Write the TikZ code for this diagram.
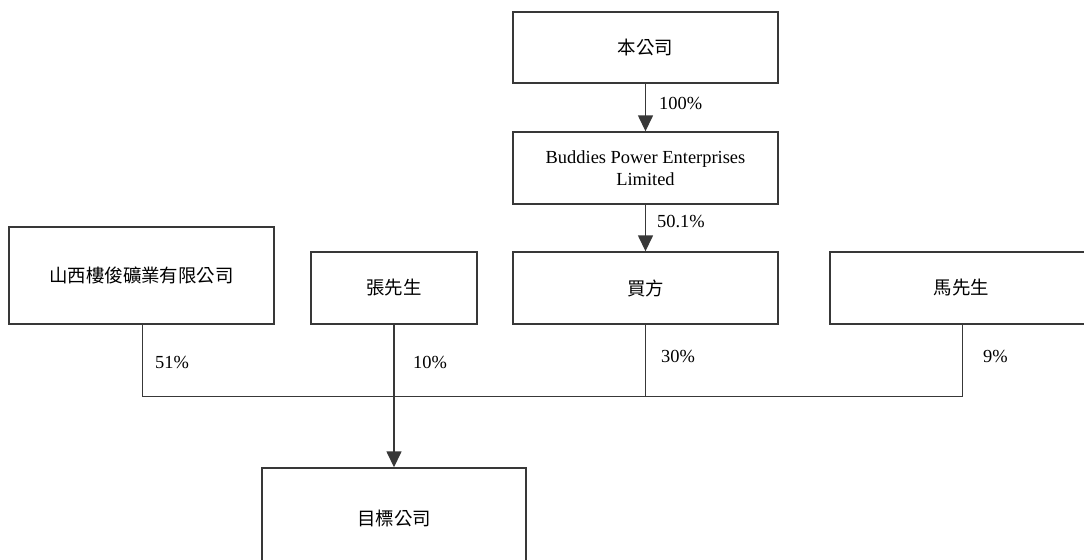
\documentclass[tikz,border=0pt]{standalone}
\usepackage{fontspec}
\setmainfont{Liberation Serif}
\newfontfamily\cjk{Noto Sans CJK TC}
\usetikzlibrary{arrows.meta}
\begin{document}
\begin{tikzpicture}[x=1bp,y=-1bp,
  box/.style={draw=black!78,line width=1.4bp,rectangle,inner sep=0pt,align=center,
    font=\fontsize{18.5}{22}\selectfont},
  link/.style={draw=black!78,line width=1.5bp},
  arr/.style={link,-{Triangle[width=15bp,length=16bp]}},
  pct/.style={anchor=west,inner sep=0pt,font=\fontsize{18.5}{20}\selectfont}]
\useasboundingbox (0,0) rectangle (1084,560);
\node[box,minimum width=265bp,minimum height=71bp] (top) at (645.5,47.5) {\cjk 本公司};
\node[box,minimum width=265bp,minimum height=72bp] (bpe) at (645.5,168) {Buddies Power Enterprises\\Limited};
\node[box,minimum width=265bp,minimum height=72bp] (buyer) at (645.5,288) {\cjk 買方};
\node[box,minimum width=265bp,minimum height=97bp] (shanxi) at (141.5,275.5) {\cjk 山西樓俊礦業有限公司};
\node[box,minimum width=166bp,minimum height=72bp] (zhang) at (394,288) {\cjk 張先生};
\node[box,minimum width=263bp,minimum height=72bp] (ma) at (961.5,288) {\cjk 馬先生};
\node[box,minimum width=264bp,minimum height=100bp] (target) at (394,518) {\cjk 目標公司};
\coordinate (hr) at (962.5,396.5);
\coordinate (hl) at (142.5,396.5);
\draw[arr] (top) -- (bpe);
\draw[arr] (bpe) -- (buyer);
\draw[link] (shanxi.south -| hl) -- (hl) -- (hr);
\draw[link] (ma.south -| hr) -- (hr);
\draw[link] (buyer.south) -- (buyer.south |- hr);
\draw[arr] (zhang.south) -- (target.north);
\node[pct] (p1) at (659,103) {100\%};
\node[pct] (p2) at (657,222) {50.1\%};
\node[pct] (p3) at (155,362) {51\%};
\node[pct] (p4) at (413,362) {10\%};
\node[pct] (p5) at (661,356) {30\%};
\node[pct] (p6) at (983,356) {9\%};
\end{tikzpicture}
\end{document}
